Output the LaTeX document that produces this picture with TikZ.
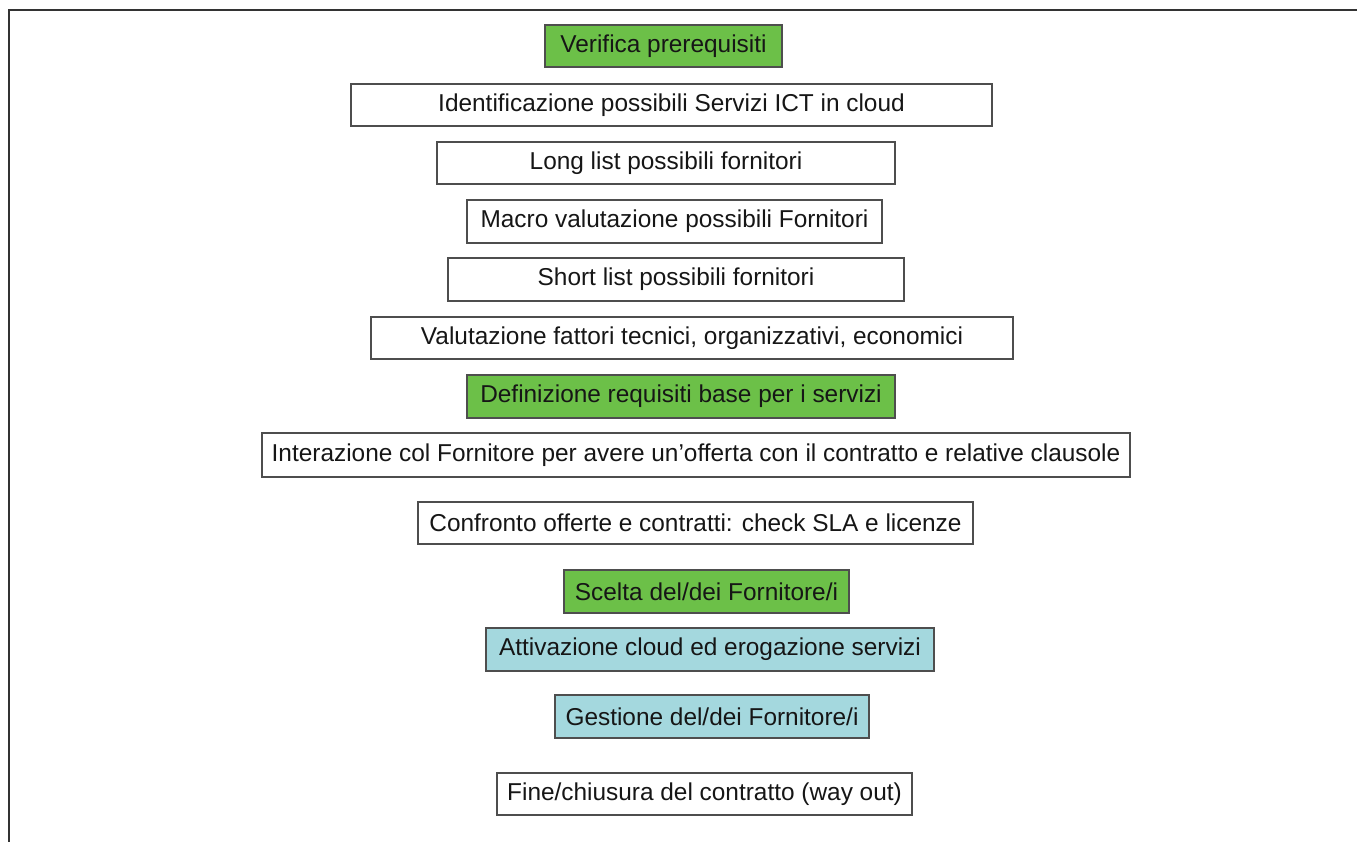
\documentclass[tikz,border=0pt]{standalone}
\usepackage{fontspec}
\setmainfont{Liberation Sans}
\begin{document}
\definecolor{stepgreen}{RGB}{108,192,72}
\definecolor{stepcyan}{RGB}{164,216,222}
\definecolor{edgegray}{RGB}{78,78,78}
\definecolor{inkdark}{RGB}{22,22,22}
\begin{tikzpicture}[x=1pt,y=-1pt,
  stepbox/.style={draw=edgegray, line width=2.4pt, fill=white, inner sep=0pt,
    text=inkdark, font=\fontsize{24.4}{27}\selectfont, anchor=center},
  greenbox/.style={stepbox, fill=stepgreen},
  cyanbox/.style={stepbox, fill=stepcyan}]
  \useasboundingbox (0,0) rectangle (1357,842);
  % frame: top and left rules
  \draw[line width=2.2pt, draw=black!80] (9,842) -- (9,10) -- (1357,10);
  % box(name, style, left, top, right, bottom, text)
  \newcommand\stepnode[7]{%
    \node[#2, minimum width={#5-#3}, minimum height={#6-#4}]
      (#1) at ({(#3+#5)/2},{(#4+#6)/2}) {#7};}
  \stepnode{n1}{greenbox}{545}{25}{782}{67}{Verifica prerequisiti}
  \stepnode{n2}{stepbox}{351}{84}{992}{126}{Identificazione possibili Servizi ICT in cloud}
  \stepnode{n3}{stepbox}{437}{142}{895}{184}{Long list possibili fornitori}
  \stepnode{n4}{stepbox}{467}{200}{882}{243}{Macro valutazione possibili Fornitori}
  \stepnode{n5}{stepbox}{448}{258}{904}{301}{Short list possibili fornitori}
  \stepnode{n6}{stepbox}{371}{317}{1013}{359}{Valutazione fattori tecnici, organizzativi, economici}
  \stepnode{n7}{greenbox}{467}{375}{895}{418}{Definizione requisiti base per i servizi}
  \stepnode{n8}{stepbox}{262}{433}{1130}{477}{Interazione col Fornitore per avere un’offerta con il contratto e relative clausole}
  \stepnode{n9}{stepbox}{418}{502}{973}{544}{Confronto offerte e contratti: check SLA e licenze}
  \stepnode{n10}{greenbox}{564}{570}{849}{613}{Scelta del/dei Fornitore/i}
  \stepnode{n11}{cyanbox}{486}{628}{934}{671}{Attivazione cloud ed erogazione servizi}
  \stepnode{n12}{cyanbox}{555}{695}{869}{738}{Gestione del/dei Fornitore/i}
  \stepnode{n13}{stepbox}{497}{773}{912}{815}{Fine/chiusura del contratto (way out)}
\end{tikzpicture}
\end{document}
